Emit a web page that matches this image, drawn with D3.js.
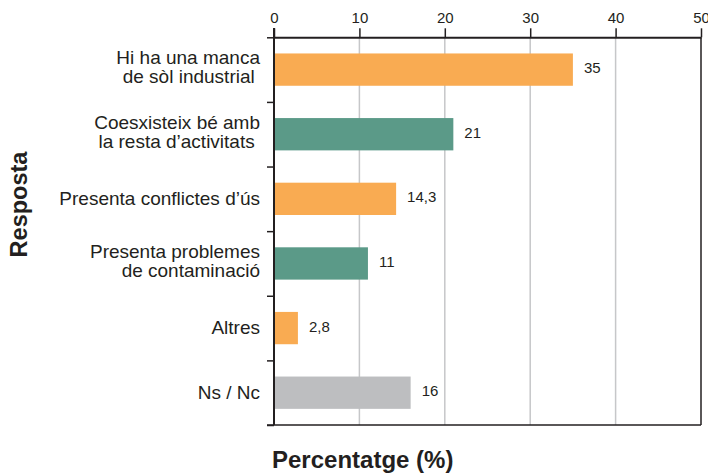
<!DOCTYPE html>
<html>
<head>
<meta charset="utf-8">
<script src="https://cdn.jsdelivr.net/npm/d3@7"></script>
<style>
  body { margin: 0; background: #fff; }
  svg { font-family: "Liberation Sans", Arial, sans-serif; }
</style>
</head>
<body>
<div id="chart"></div>
<script>
var width = 708,
    height = 474

// data
var categories = [
  ["Hi ha una manca", "de sòl industrial\u00a0"],
  ["Coesxisteix bé amb", "la resta d\u2019activitats\u00a0"],
  ["Presenta conflictes d\u2019ús"],
  ["Presenta problemes", "de contaminació"],
  ["Altres"],
  ["Ns / Nc"]
]
var values = [35, 21, 14.3, 11, 2.8, 16]
var groups = ["a", "b", "a", "b", "a", "c"]
var xTicks = [0, 10, 20, 30, 40, 50]

var color = d3.scaleOrdinal()
  .domain(["a", "b", "c"])
  .range(["#f9ab52", "#5b9a88", "#bdbec0"])

var catKeys = categories.map(function(d) { return d.join(" ") })

var x = d3.scaleLinear()
  .domain([0, 50])
  .range([274, 701])

var y = d3.scaleBand()
  .domain(catKeys)
  .range([37.3, 425])
  .paddingInner(0.5)
  .paddingOuter(0.25)

var locale = d3.formatLocale({decimal: ",", thousands: ".", grouping: [3], currency: ["", " €"]})
var fmt = function(v) { return Number.isInteger(v) ? String(v) : locale.format(".1f")(v) }

var svg = d3.select("#chart")
  .append("svg")
    .attr("width", width)
    .attr("height", height)

// grid lines
svg.append("g")
  .selectAll("line")
  .data(xTicks.slice(1, -1))
  .enter()
  .append("line")
    .attr("x1", function(d) { return x(d) })
    .attr("x2", function(d) { return x(d) })
    .attr("y1", 37.3)
    .attr("y2", 425)
    .attr("stroke", "#c6c7c9")
    .attr("stroke-width", 1.5)

// bars
svg.append("g")
  .selectAll("rect")
  .data(values)
  .enter()
  .append("rect")
    .attr("x", x(0))
    .attr("y", function(d, i) { return y(catKeys[i]) })
    .attr("width", function(d) { return x(d) - x(0) })
    .attr("height", y.bandwidth())
    .attr("fill", function(d, i) { return color(groups[i]) })

// value labels
svg.append("g")
  .selectAll("text")
  .data(values)
  .enter()
  .append("text")
    .attr("x", function(d) { return x(d) + 11 })
    .attr("y", function(d, i) { return y(catKeys[i]) + y.bandwidth() / 2 + 3.5 })
    .attr("font-size", "15px")
    .attr("fill", "#231f20")
    .text(function(d) { return fmt(d) })

// top axis
var topAxis = svg.append("g")
  .attr("transform", "translate(0,37.3)")
  .call(d3.axisTop(x).tickValues(xTicks).tickSize(9).tickPadding(5).tickSizeOuter(0))
topAxis.select(".domain").attr("stroke", "#231f20").attr("stroke-width", 2)
topAxis.selectAll(".tick line").attr("stroke", "#231f20").attr("stroke-width", 1.5)
topAxis.selectAll(".tick text")
  .attr("font-size", "15px")
  .attr("font-family", "Liberation Sans, Arial, sans-serif")
  .attr("fill", "#231f20")

// right and bottom frame
svg.append("line")
  .attr("x1", x(50)).attr("x2", x(50))
  .attr("y1", 37.3).attr("y2", 425)
  .attr("stroke", "#231f20").attr("stroke-width", 1.5)
svg.append("line")
  .attr("x1", 267).attr("x2", x(50))
  .attr("y1", 425).attr("y2", 425)
  .attr("stroke", "#231f20").attr("stroke-width", 1.5)

// left axis with ticks at band edges
var edges = d3.scaleLinear().domain([0, categories.length]).range([37.3, 425])
var leftAxis = svg.append("g")
  .attr("transform", "translate(" + x(0) + ",0)")
  .call(d3.axisLeft(edges).tickValues(d3.range(categories.length + 1)).tickSize(7).tickSizeOuter(0).tickFormat(""))
leftAxis.select(".domain").attr("stroke", "#231f20").attr("stroke-width", 2)
  .attr("d", "M0,28V425")
leftAxis.selectAll(".tick line").attr("stroke", "#231f20").attr("stroke-width", 1.5)

// category labels
var labels = svg.append("g")
  .selectAll("text")
  .data(categories)
  .enter()
  .append("text")
    .attr("text-anchor", "end")
    .attr("font-size", "19px")
    .attr("fill", "#231f20")
    .attr("transform", function(d, i) {
      return "translate(260," + (y(catKeys[i]) + y.bandwidth() / 2) + ")"
    })

labels.selectAll("tspan")
  .data(function(d) { return d })
  .enter()
  .append("tspan")
    .attr("x", 0)
    .attr("y", function(d, i, nodes) {
      var n = nodes.length
      return (i - (n - 1) / 2) * 19 + (n > 1 ? 4 : 6)
    })
    .text(function(d) { return d })

// axis titles
svg.append("text")
  .attr("transform", "translate(26.5,204.5) rotate(-90)")
  .attr("text-anchor", "middle")
  .attr("font-size", "23.5px")
  .attr("font-weight", "bold")
  .attr("fill", "#231f20")
  .text("Resposta")

svg.append("text")
  .attr("x", 272)
  .attr("y", 468)
  .attr("font-size", "24px")
  .attr("font-weight", "bold")
  .attr("fill", "#231f20")
  .text("Percentatge (%)")
</script>
</body>
</html>
